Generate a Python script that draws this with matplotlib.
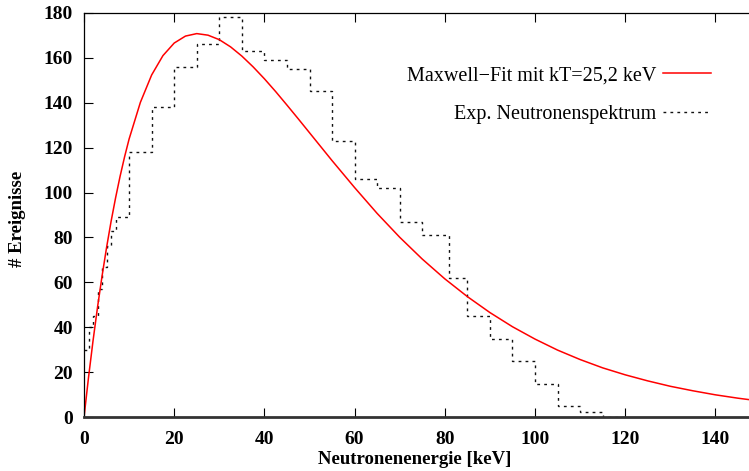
import matplotlib
matplotlib.use('Agg')
import matplotlib.pyplot as plt

plt.rcParams['font.family'] = ['Liberation Serif', 'DejaVu Serif']

# Experimental histogram (bin edges in keV, counts)
hist_edges = [0, 1, 2, 3, 4, 5, 6, 7, 10, 15, 20, 25, 30, 35, 40, 45, 50, 55,
              60, 65, 70, 75, 81, 85, 90, 95, 100, 105, 110, 115, 120]
hist_counts = [30, 40, 45, 57, 67, 76, 83, 89, 118, 138, 156, 166, 178, 163,
               159, 155, 145, 123, 106, 102, 87, 81, 62, 45, 35, 25, 15, 5, 2.2, 0.3]

# Maxwell fit curve
fit_energy = [0, 1, 2, 3, 4, 5, 6, 7, 8, 9, 10, 12.5, 15, 17.5, 20, 22.5, 25,
              27.5, 30, 32.5, 35, 37.5, 40, 42.5, 45, 47.5, 50, 55, 60, 65, 70,
              75, 80, 85, 90, 95, 100, 105, 110, 115, 120, 125, 130, 135, 140,
              145, 150]
fit_counts = [0, 17.7, 34.0, 49.0, 62.8, 75.5, 87.1, 97.6, 107.2, 115.9, 123.8,
              140.1, 152.3, 160.9, 166.5, 169.6, 170.7, 170.0, 168.0, 164.8,
              160.7, 155.9, 150.6, 144.9, 138.9, 132.8, 126.6, 114.2, 102.2,
              90.7, 80.1, 70.4, 61.6, 53.7, 46.6, 40.3, 34.8, 29.9, 25.7, 22.0,
              18.9, 16.2, 13.8, 11.8, 10.0, 8.5, 7.2]

x_ticks = [0, 20, 40, 60, 80, 100, 120, 140]
y_ticks = [0, 20, 40, 60, 80, 100, 120, 140, 160, 180]

fig = plt.figure(figsize=(7.49, 4.71), dpi=100)
ax = fig.add_axes([84 / 749, 1 - 417.3 / 471, (760.5 - 84) / 749, (417.3 - 12.7) / 471])

ax.plot(fit_energy, fit_counts, color='#ff0000', lw=1.1,
        label='Maxwell\u2212Fit mit kT=25,2 keV')
ax.stairs(hist_counts, hist_edges, baseline=None, color='#111111', lw=1.0,
          linestyle=(0, (2, 3)), label='Exp. Neutronenspektrum')

ax.set_xlim(0, 150)
ax.set_ylim(0, 180)
ax.set_xticks(x_ticks)
ax.set_yticks(y_ticks)
ax.tick_params(direction='in', top=True, right=True, length=6.5, width=0.8,
               labelsize=14)
ax.tick_params(axis='y', pad=8)
ax.tick_params(axis='x', pad=10)
for lab in ax.get_xticklabels() + ax.get_yticklabels():
    lab.set_fontweight('bold')

for s in ['top', 'left', 'right']:
    ax.spines[s].set_linewidth(0.9)
ax.spines['bottom'].set_linewidth(2.0)
ax.spines['bottom'].set_color('#333333')

ax.set_xlabel('Neutronenenergie [keV]', fontsize=13.5, fontweight='bold')
ax.xaxis.set_label_coords((415 - 84) / (760.5 - 84), -0.083)
fig.text(18 / 749, 1 - 219 / 471, '# Ereignisse', rotation=90, fontsize=13.5,
         fontweight='bold', ha='center', va='center')

leg = ax.legend(loc='upper right', bbox_to_anchor=(711 / 749, 1 - 66 / 471),
                bbox_transform=fig.transFigure, frameon=False, markerfirst=False,
                fontsize=14.5, handlelength=2.4, handletextpad=0.3,
                labelspacing=1.0, borderpad=0, borderaxespad=0)

fig.savefig('out.png', dpi=100)
